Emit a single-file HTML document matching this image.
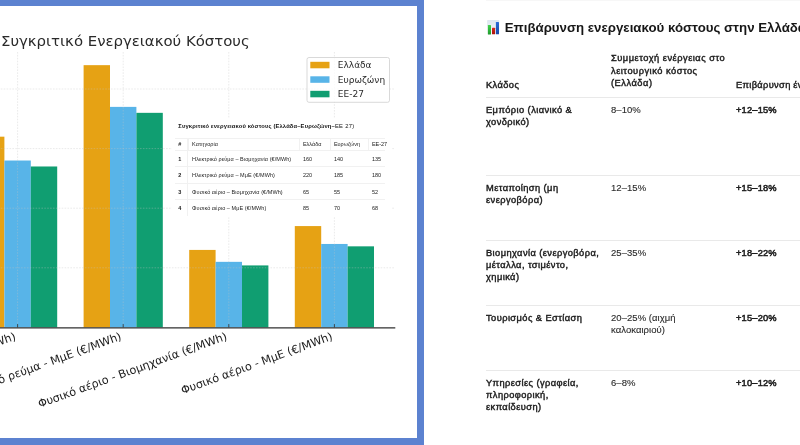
<!DOCTYPE html>
<html lang="el"><head><meta charset="utf-8"><title>Επιβάρυνση ενεργειακού κόστους</title>
<style>
html,body{margin:0;padding:0;background:#fff;}
body{width:800px;height:445px;overflow:hidden;position:relative;font-family:"Liberation Sans",sans-serif;color:#1b1b1b;}
.left{position:absolute;left:0;top:0;width:424px;height:445px;background:#5c82d0;overflow:hidden;}
.left .inner{position:absolute;left:0;top:6px;width:417px;height:431.5px;background:#fff;overflow:hidden;}
.chart{position:absolute;left:0;top:0;display:block;}
.chart,.mini,.right{filter:blur(0.3px);}
.mini{position:absolute;left:172px;top:112px;width:219px;height:97.5px;background:#fff;font-size:5.5px;color:#222;}
.mini .mt{position:absolute;left:6.3px;top:5.2px;font-weight:bold;font-size:5.8px;letter-spacing:0.15px;color:#111;white-space:nowrap;}
.mini .mr{position:absolute;left:3px;width:210px;height:16.55px;border-top:0.6px solid #f1f1f1;box-sizing:border-box;}
.mini .mr span{position:absolute;top:0;line-height:16px;white-space:nowrap;}
.mini .mh{height:12px;}
.mini .mh span{line-height:11px;font-size:5.5px;}
.mini .mh span::before{content:"";position:absolute;left:-4.3px;top:0;height:11.5px;border-left:0.6px solid #f1f1f1;}
.mini .mh .c0::before{display:none;}
.mini .mr:nth-child(2){top:19.6px;}
.mini .mr:nth-child(3){top:31.5px;}
.mini .mr:nth-child(4){top:48.1px;}
.mini .mr:nth-child(5){top:64.6px;}
.mini .mr:nth-child(6){top:81.2px;}
.mini .c0{left:3.3px;font-weight:bold;}
.mini .c1{left:17.1px;letter-spacing:0.07px;}
.mini .c2{left:127.9px;}
.mini .c3{left:158.9px;}
.mini .c4{left:196.9px;}
.mini .vl{position:absolute;left:15px;top:19.6px;height:78px;border-left:0.6px solid #f1f1f1;}
.right{position:absolute;left:424px;top:0;width:376px;height:445px;background:#fff;overflow:hidden;}
.topbar{position:absolute;left:61.5px;top:0;width:320px;height:1.4px;background:#f7f7f7;}
h2{position:absolute;left:62.5px;top:18.6px;margin:0;font-size:13.27px;font-weight:bold;white-space:nowrap;line-height:18px;color:#161616;}
.ico{position:absolute;left:0.5px;top:1.4px;}
h2 span{margin-left:18.2px;}
.thead{position:absolute;left:61.5px;top:40px;width:340px;height:57px;font-size:9.3px;-webkit-text-stroke:0.42px #1b1b1b;letter-spacing:0.4px;line-height:12.7px;color:#1b1b1b;}
.thead div{position:absolute;bottom:5.4px;white-space:nowrap;}
.ln{position:absolute;left:61.5px;width:340px;height:1px;background:#e9e9e9;}
.tr{position:absolute;left:61.5px;width:340px;font-size:9px;line-height:11.8px;}
.tr div{position:absolute;top:0;white-space:nowrap;}
.a{left:0.5px;margin-top:0.3px;font-size:9.3px;-webkit-text-stroke:0.42px #1b1b1b;letter-spacing:0.42px;}
.b{left:125.5px;color:#2c2c2c;-webkit-text-stroke:0.12px #2c2c2c;font-size:9.5px;letter-spacing:0.05px;line-height:12.5px;margin-top:-1.2px;}
.c{left:250.5px;margin-top:0.3px;font-size:9.3px;-webkit-text-stroke:0.5px #1b1b1b;letter-spacing:0.18px;}
</style></head><body>
<div class="left"><div class="inner">
<svg class="chart" width="417" height="431.5" viewBox="0 6 417 431.5" font-family="'DejaVu Sans', 'Liberation Sans', sans-serif">
<rect x="-22.00" y="136.68" width="26.40" height="190.72" fill="#E6A214"/>
<rect x="4.40" y="160.52" width="26.40" height="166.88" fill="#58B4E8"/>
<rect x="30.80" y="166.48" width="26.40" height="160.92" fill="#109E71"/>
<rect x="83.60" y="65.16" width="26.40" height="262.24" fill="#E6A214"/>
<rect x="110.00" y="106.88" width="26.40" height="220.52" fill="#58B4E8"/>
<rect x="136.40" y="112.84" width="26.40" height="214.56" fill="#109E71"/>
<rect x="189.20" y="249.92" width="26.40" height="77.48" fill="#E6A214"/>
<rect x="215.60" y="261.84" width="26.40" height="65.56" fill="#58B4E8"/>
<rect x="242.00" y="265.42" width="26.40" height="61.98" fill="#109E71"/>
<rect x="294.80" y="226.08" width="26.40" height="101.32" fill="#E6A214"/>
<rect x="321.20" y="243.96" width="26.40" height="83.44" fill="#58B4E8"/>
<rect x="347.60" y="246.34" width="26.40" height="81.06" fill="#109E71"/>
<g stroke="#c4c4c4" stroke-opacity="0.5" stroke-width="0.7" stroke-dasharray="1.6 1.3" fill="none"><line x1="17.60" y1="52" x2="17.60" y2="327.4"/><line x1="123.20" y1="52" x2="123.20" y2="327.4"/><line x1="228.80" y1="52" x2="228.80" y2="327.4"/><line x1="334.40" y1="52" x2="334.40" y2="327.4"/><line x1="-5" y1="267.80" x2="394.5" y2="267.80"/><line x1="-5" y1="208.20" x2="394.5" y2="208.20"/><line x1="-5" y1="148.60" x2="394.5" y2="148.60"/><line x1="-5" y1="89.00" x2="394.5" y2="89.00"/></g>
<line x1="-5" y1="327.84999999999997" x2="395.3" y2="327.84999999999997" stroke="#303030" stroke-width="1.1"/>
<line x1="17.60" y1="324.09999999999997" x2="17.60" y2="327.4" stroke="#2b2b2b" stroke-width="0.8"/>
<line x1="123.20" y1="324.09999999999997" x2="123.20" y2="327.4" stroke="#2b2b2b" stroke-width="0.8"/>
<line x1="228.80" y1="324.09999999999997" x2="228.80" y2="327.4" stroke="#2b2b2b" stroke-width="0.8"/>
<line x1="334.40" y1="324.09999999999997" x2="334.40" y2="327.4" stroke="#2b2b2b" stroke-width="0.8"/>
<text transform="translate(16.60,339.40) rotate(-20)" text-anchor="end" font-size="11.2" fill="#1a1a1a">Ηλεκτρικό ρεύμα - Βιομηχανία (€/MWh)</text>
<text transform="translate(122.20,339.40) rotate(-20)" text-anchor="end" font-size="11.2" fill="#1a1a1a">Ηλεκτρικό ρεύμα - ΜμΕ (€/MWh)</text>
<text transform="translate(227.80,339.40) rotate(-20)" text-anchor="end" font-size="11.2" fill="#1a1a1a">Φυσικό αέριο - Βιομηχανία (€/MWh)</text>
<text transform="translate(333.40,339.40) rotate(-20)" text-anchor="end" font-size="11.2" fill="#1a1a1a">Φυσικό αέριο - ΜμΕ (€/MWh)</text>
<text x="1.0" y="46.3" font-size="14.9" fill="#2a2a2a">Συγκριτικό Ενεργειακού Κόστους</text>
<rect x="307" y="57.5" width="82.5" height="44.8" rx="2" ry="2" fill="#fff" fill-opacity="0.8" stroke="#cfcfcf" stroke-width="0.8"/>
<rect x="310.3" y="61.80" width="19.2" height="6.5" fill="#E6A214"/>
<text x="337.8" y="68.40" font-size="9.0" fill="#2a2a2a">Ελλάδα</text>
<rect x="310.3" y="76.30" width="19.2" height="6.5" fill="#58B4E8"/>
<text x="337.8" y="82.90" font-size="9.0" fill="#2a2a2a">Ευρωζώνη</text>
<rect x="310.3" y="90.80" width="19.2" height="6.5" fill="#109E71"/>
<text x="337.8" y="97.40" font-size="9.0" fill="#2a2a2a">ΕΕ-27</text>
</svg>
<div class="mini">
<div class="mt">Συγκριτικό ενεργειακού κόστους (Ελλάδα–Ευρωζώνη–<span style="font-weight:normal;letter-spacing:0.3px">ΕΕ 27)</span></div>
<div class="mr mh"><span class="c0">#</span><span class="c1">Κατηγορία</span><span class="c2">Ελλάδα</span><span class="c3">Ευρωζώνη</span><span class="c4">ΕΕ-27</span></div>
<div class="mr"><span class="c0">1</span><span class="c1">Ηλεκτρικό ρεύμα – Βιομηχανία (€/MWh)</span><span class="c2">160</span><span class="c3">140</span><span class="c4">135</span></div>
<div class="mr"><span class="c0">2</span><span class="c1">Ηλεκτρικό ρεύμα – ΜμΕ (€/MWh)</span><span class="c2">220</span><span class="c3">185</span><span class="c4">180</span></div>
<div class="mr"><span class="c0">3</span><span class="c1">Φυσικό αέριο – Βιομηχανία (€/MWh)</span><span class="c2">65</span><span class="c3">55</span><span class="c4">52</span></div>
<div class="mr"><span class="c0">4</span><span class="c1">Φυσικό αέριο – ΜμΕ (€/MWh)</span><span class="c2">85</span><span class="c3">70</span><span class="c4">68</span></div>
<div class="vl"></div></div>
</div></div>
<div class="right">
<div class="topbar"></div>
<h2><svg class="ico" width="13" height="15" viewBox="0 0 13 15"><defs><linearGradient id="cg" x1="0" y1="0" x2="0" y2="1"><stop offset="0" stop-color="#dde6f0"/><stop offset="1" stop-color="#f7f8fa"/></linearGradient><linearGradient id="gg" x1="0" y1="0" x2="0" y2="1"><stop offset="0" stop-color="#3fd24a"/><stop offset="1" stop-color="#1f9a2c"/></linearGradient><linearGradient id="rg" x1="0" y1="0" x2="0" y2="1"><stop offset="0" stop-color="#d8261c"/><stop offset="1" stop-color="#a81208"/></linearGradient><linearGradient id="bg" x1="0" y1="0" x2="0" y2="1"><stop offset="0" stop-color="#2a6ad8"/><stop offset="1" stop-color="#1848a8"/></linearGradient></defs><rect x="0.1" y="0.1" width="12.2" height="14.5" rx="0.8" fill="url(#cg)"/><rect x="0.9" y="5.1" width="3.1" height="9.4" rx="0.5" fill="url(#gg)"/><rect x="5" y="7.7" width="3.1" height="6.6" rx="0.5" fill="url(#rg)"/><rect x="8.9" y="1.9" width="3.1" height="12.4" rx="0.5" fill="url(#bg)"/></svg><span>Επιβάρυνση ενεργειακού κόστους στην Ελλάδα</span></h2>
<div class="thead"><div style="left:0.5px">Κλάδος</div><div style="left:125.5px;bottom:7px;letter-spacing:0.5px">Συμμετοχή ενέργειας στο<br>λειτουργικό κόστος<br>(Ελλάδα)</div><div style="left:250.5px;letter-spacing:0.33px;word-spacing:-0.3px">Επιβάρυνση ένεκα κόστους</div></div>
<div class="ln" style="top:97px"></div>
<div class="tr" style="top:105.10px"><div class="a">Εμπόριο (λιανικό &amp;<br>χονδρικό)</div><div class="b">8–10%</div><div class="c">+12–15%</div></div>
<div class="ln" style="top:175px"></div>
<div class="tr" style="top:183.10px"><div class="a">Μεταποίηση (μη<br>ενεργοβόρα)</div><div class="b">12–15%</div><div class="c">+15–18%</div></div>
<div class="ln" style="top:240px"></div>
<div class="tr" style="top:248.10px"><div class="a">Βιομηχανία (ενεργοβόρα,<br>μέταλλα, τσιμέντο,<br>χημικά)</div><div class="b">25–35%</div><div class="c">+18–22%</div></div>
<div class="ln" style="top:305px"></div>
<div class="tr" style="top:313.10px"><div class="a">Τουρισμός &amp; Εστίαση</div><div class="b">20–25% (αιχμή<br>καλοκαιριού)</div><div class="c">+15–20%</div></div>
<div class="ln" style="top:370px"></div>
<div class="tr" style="top:378.10px"><div class="a">Υπηρεσίες (γραφεία,<br>πληροφορική,<br>εκπαίδευση)</div><div class="b">6–8%</div><div class="c">+10–12%</div></div>
</div>
</body></html>
